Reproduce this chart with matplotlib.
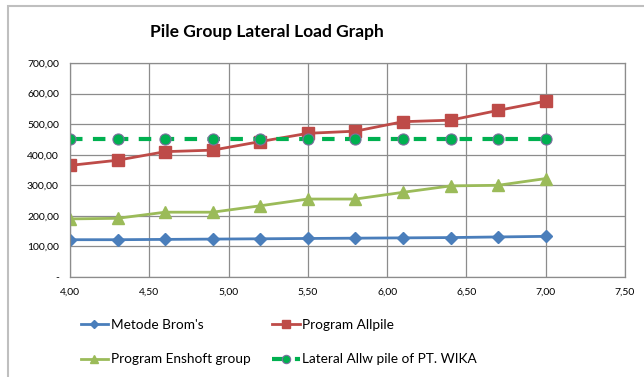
import numpy as np
import matplotlib.pyplot as plt
from matplotlib.ticker import FuncFormatter
from matplotlib.patches import Rectangle

plt.rcParams['font.family'] = ['Lato', 'DejaVu Sans']

# pile length (m) and lateral load (kN)
L = [4.0, 4.3, 4.6, 4.9, 5.2, 5.5, 5.8, 6.1, 6.4, 6.7, 7.0]
brom = [122, 122, 123, 124, 125, 126, 127, 128, 129, 131, 133]
allpile = [365, 382, 410, 415, 443, 470, 477, 508, 513, 545, 575]
enshoft = [190, 192, 212, 212, 233, 255, 255, 277, 298, 300, 322]
wika = [450, 450, 450, 450, 450, 450, 450, 450, 450, 450, 450]

def comma_fmt(v, pos):
    if abs(v) < 1e-9:
        return '-'
    return ('%.2f' % v).replace('.', ',')

fig = plt.figure(figsize=(6.44, 3.77), dpi=100)
ax = fig.add_axes([70/644, 1-277/377, 555/644, 214/377])

h1, = ax.plot(L, brom, color='#4a7ebb', lw=2, marker='D', ms=6, label="Metode Brom's")
h2, = ax.plot(L, allpile, color='#be4b48', lw=2, marker='s', ms=8, label='Program Allpile')
h3, = ax.plot(L, enshoft, color='#9bbb59', lw=2, marker='^', ms=8, label='Program Enshoft group')
h4, = ax.plot(L, wika, color='#00b050', lw=3, ls=(0, (3, 2.5)), marker='o', ms=8,
              mec='#7f6fa0', mew=0.8, label='Lateral Allw pile of PT. WIKA')

ax.set_xlim(4, 7.5)
ax.set_ylim(0, 700)
ax.set_xticks(np.arange(4, 7.51, 0.5))
ax.set_yticks(np.arange(0, 701, 100))
ax.xaxis.set_major_formatter(FuncFormatter(comma_fmt))
ax.yaxis.set_major_formatter(FuncFormatter(comma_fmt))
ax.tick_params(labelsize=7.5, length=0, pad=8)
ax.grid(color='#8c8c8c', lw=0.9)
ax.set_axisbelow(True)
for s in ax.spines.values():
    s.set_color('#8c8c8c')
    s.set_linewidth(0.9)

fig.text(267/644, 1-32/377, 'Pile Group Lateral Load Graph', fontsize=12.5,
         fontweight='bold', ha='center', va='center')

# row-wise order: Brom / Allpile, Enshoft / WIKA
fig.legend([h1, h3, h2, h4], [h.get_label() for h in (h1, h3, h2, h4)],
           loc='upper left', bbox_to_anchor=(74/644, 1-312/377), ncol=2, frameon=False,
           fontsize=9.8, columnspacing=1.6, handlelength=2.0, handletextpad=0.2,
           labelspacing=1.65, markerscale=0.75, borderpad=0)

# chart frame
fig.patches.append(Rectangle((8/644, -0.1), 1.2, (377-6)/377 + 0.1, transform=fig.transFigure,
                             fill=False, ec='#bfbfbf', lw=1.5))

fig.savefig('out.png', dpi=100)
